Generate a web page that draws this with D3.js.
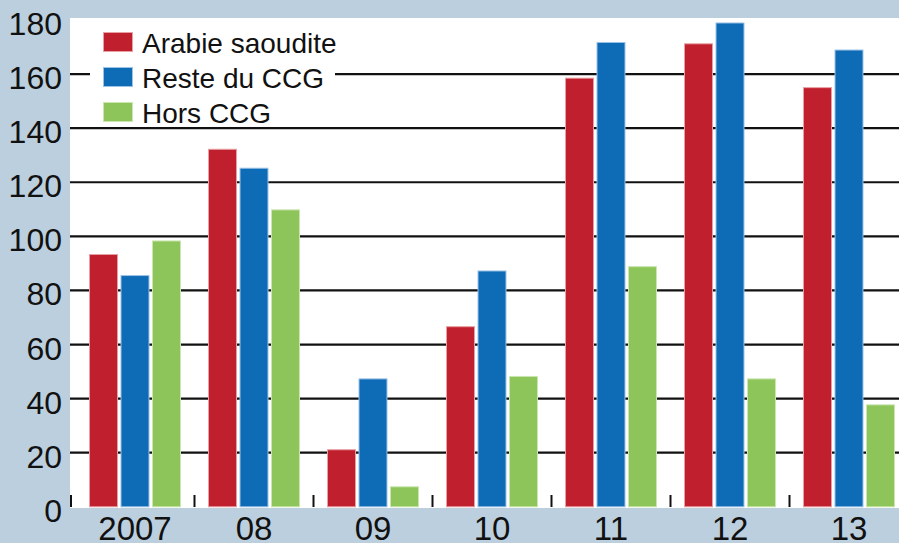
<!DOCTYPE html>
<html><head><meta charset="utf-8">
<script src="https://cdn.jsdelivr.net/npm/d3@7"></script>
<style>html,body{margin:0;padding:0;background:#bccfde;}svg{display:block;}</style>
</head><body>
<script>
const categories = ["2007","08","09","10","11","12","13"];
const seriesNames = ["Arabie saoudite","Reste du CCG","Hors CCG"];
const arabieSaoudite = [93.3,132.2,21.1,66.6,158.5,171.2,155.0];
const resteCCG = [85.5,125.2,47.3,87.2,171.7,178.9,168.9];
const horsCCG = [98.3,109.8,7.4,48.2,88.8,47.3,37.7];
const yTicks = [0,20,40,60,80,100,120,140,160,180];
const colors = ["#c0202e","#0e6bb6","#8dc55a"];
const strokes = ["#e8a0a4","#9cc3e6","#cbe6b0"];

const W=899,H=543;
const svg=d3.select("body").append("svg").attr("width",W).attr("height",H);
svg.append("rect").attr("width",W).attr("height",H).attr("fill","#bccfde");
svg.append("rect").attr("x",70).attr("y",18).attr("width",W-70).attr("height",490).attr("fill","#fff");

const y=d3.scaleLinear().domain([0,180]).range([506.8,20]);
const x=d3.scaleBand().domain(categories).range([75.5,75.5+7*119]).paddingInner(0.227).paddingOuter(0.1135);
const x1=d3.scaleBand().domain([0,1,2]).range([0,x.bandwidth()]).paddingInner(0.08);

// gridlines
svg.append("g").selectAll("line").data(yTicks.filter(t=>t>0&&t<180)).join("line")
  .attr("x1",70).attr("x2",W).attr("y1",d=>y(d)).attr("y2",d=>y(d))
  .attr("stroke","#111").attr("stroke-width",2.2);

// legend background
svg.append("rect").attr("x",90).attr("y",24).attr("width",245).attr("height",100).attr("fill","#fff");

const series=[arabieSaoudite,resteCCG,horsCCG];
const g=svg.append("g");
categories.forEach((c,i)=>{
  series.forEach((s,j)=>{
    g.append("rect").attr("x",x(c)+x1(j)+0.5).attr("y",y(s[i])).attr("width",x1.bandwidth()-1)
     .attr("height",y(0)-y(s[i])).attr("fill",colors[j]).attr("stroke",strokes[j]).attr("stroke-width",1);
  });
});

// bottom ticks
const tickXs=[71].concat(categories.slice(1).map(c=>x(c)-(x.step()-x.bandwidth())/2));
svg.append("g").selectAll("line").data(tickXs).join("line")
  .attr("x1",d=>d).attr("x2",d=>d).attr("y1",495).attr("y2",507)
  .attr("stroke","#111").attr("stroke-width",2);

// y labels
svg.append("g").selectAll("text").data(yTicks).join("text")
  .attr("x",62).attr("y",d=>y(d)+15).attr("text-anchor","end")
  .attr("font-family","Liberation Sans, Arial, sans-serif").attr("font-size",32).attr("fill","#111")
  .text(d=>d);

// x labels
svg.append("g").selectAll("text").data(categories).join("text")
  .attr("x",d=>x(d)+x.bandwidth()/2).attr("y",540).attr("text-anchor","middle")
  .attr("font-family","Liberation Sans, Arial, sans-serif").attr("font-size",33).attr("fill","#111")
  .text(d=>d);

// legend
const lg=svg.append("g");
seriesNames.forEach((n,j)=>{
  lg.append("rect").attr("x",103.5).attr("y",32.5+j*35).attr("width",29).attr("height",19)
    .attr("fill",colors[j]).attr("stroke",strokes[j]).attr("stroke-width",1);
  lg.append("text").attr("x",142).attr("y",53+j*35)
    .attr("font-family","Liberation Sans, Arial, sans-serif").attr("font-size",28).attr("fill","#111").text(n);
});
</script>
</body></html>
